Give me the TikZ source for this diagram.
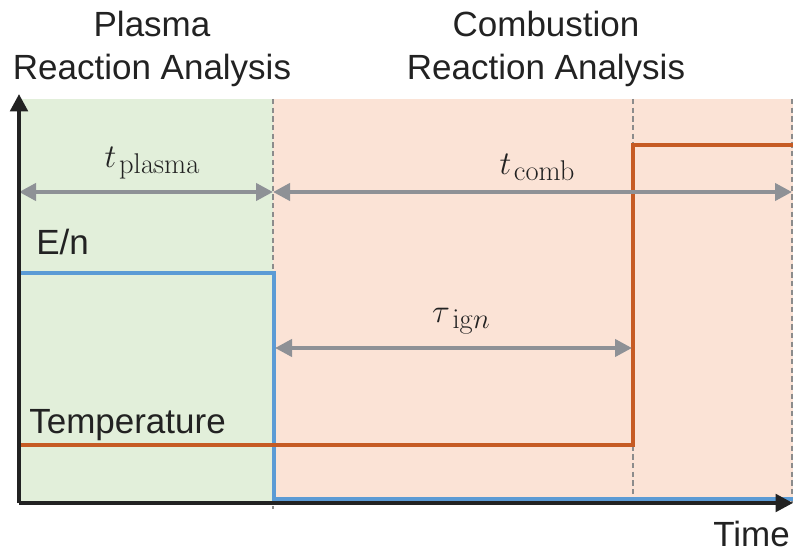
\documentclass[tikz,border=0pt]{standalone}
\usepackage{graphicx}
\usepackage[no-math]{fontspec}
\setmainfont{Liberation Sans}
\usetikzlibrary{arrows.meta}
\newcommand\dimlabel[2]{$#1$\kern2pt\raisebox{-4.5pt}{\scalebox{0.86}{$#2$}}}
\definecolor{bggreen}{HTML}{E2EFDA}
\definecolor{bgsalmon}{HTML}{FBE3D6}
\definecolor{lineblue}{HTML}{5B9BD5}
\definecolor{lineorange}{HTML}{C65B24}
\definecolor{arrowgray}{HTML}{8E9196}
\definecolor{dashgray}{HTML}{8C8C8C}
\definecolor{axisblack}{HTML}{222222}
\begin{document}
\begin{tikzpicture}[x=0.75pt,y=-0.75pt,
  lbl/.style={inner sep=0pt,text=axisblack,font=\fontsize{26.25}{32}\selectfont},
  mlbl/.style={inner sep=0pt,text=axisblack,font=\fontsize{24.88}{30}\selectfont},
  axisline/.style={draw=axisblack,line width=3pt,-{Triangle[length=13pt,width=13pt]}},
  dim/.style={draw=arrowgray,line width=3pt,{Triangle[length=12.75pt,width=12.75pt]}-{Triangle[length=12.75pt,width=12.75pt]}},
  divider/.style={draw=dashgray,line width=1.2pt,dash pattern=on 4pt off 2.5pt},
  signal/.style={line width=3.6pt,line join=miter}
]
\useasboundingbox (0,0) rectangle (793,552);
% key coordinates
\coordinate (O) at (19,503);
\coordinate (ytop) at (19,94);
\coordinate (xend) at (793,503);
\coordinate (d1top) at (273,99);
\coordinate (d1bot) at (273,509);
\coordinate (d2top) at (633,99);
\coordinate (d2bot) at (633,503);
\coordinate (d3top) at (792,99);
\coordinate (d3bot) at (792,503);
% backgrounds
\fill[bggreen] (19,99) rectangle (273,503);
\fill[bgsalmon] (273,99) rectangle (793,503);
% dividers
\draw[divider] (d1top) -- (d1bot);
\draw[divider] (d2top) -- (d2bot);
\draw[divider] (d3top) -- (d3bot);
% signals
\coordinate (b0) at (19,273);
\coordinate (b1) at (274,273);
\coordinate (b2) at (274,499);
\coordinate (b3) at (793,499);
\draw[signal,lineblue] (b0) -- (b1) -- (b2) -- (b3);
\coordinate (r0) at (19,445);
\coordinate (r1) at (633,445);
\coordinate (r2) at (633,145);
\coordinate (r3) at (793,145);
\draw[signal,lineorange] (r0) -- (r1) -- (r2) -- (r3);
% dimension arrows
\coordinate (p0) at (19,192);
\coordinate (p1) at (273,192);
\coordinate (c1) at (792,192);
\coordinate (i0) at (275,348);
\coordinate (i1) at (632,348);
\draw[dim] (p0) -- (p1);
\draw[dim] (p1) -- (c1);
\draw[dim] (i0) -- (i1);
% axes
\draw[axisline] (O) -- (ytop);
\draw[axisline] (O) -- (xend);
% labels
\node[mlbl,anchor=base] (tplasma) at (152,168) {\dimlabel{t}{\mathrm{plasma}}};
\node[mlbl,anchor=base] (tcomb) at (537,175) {\dimlabel{t}{\mathrm{comb}}};
\node[mlbl,anchor=base] (tign) at (461,323) {\dimlabel{\tau}{\mathrm{ig}n}};
\node[lbl,anchor=base west] (en) at (36,255) {E/n};
\node[lbl,anchor=base west] (temp) at (29,433) {Temperature};
\node[lbl,anchor=base east] (time) at (790,546) {Time};
\node[lbl,anchor=base] (ptitle1) at (152,37) {Plasma};
\node[lbl,anchor=base] (ptitle2) at (152,80) {Reaction Analysis};
\node[lbl,anchor=base] (ctitle1) at (546,37) {Combustion};
\node[lbl,anchor=base] (ctitle2) at (546,80) {Reaction Analysis};
\end{tikzpicture}
\end{document}
